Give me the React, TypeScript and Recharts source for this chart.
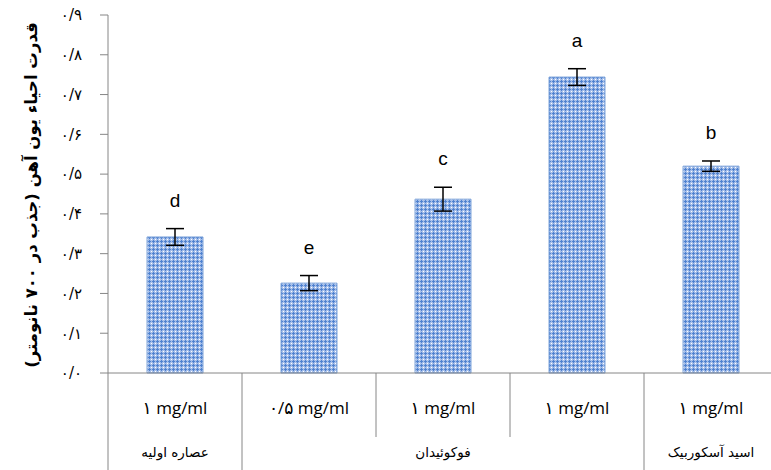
import { BarChart, Bar, XAxis, YAxis, ErrorBar, LabelList } from "recharts";

const doses = ["۱ mg/ml", "۰/۵ mg/ml", "۱ mg/ml", "۱ mg/ml", "۱ mg/ml"];
const groups = ["عصاره اولیه", "فوکوئیدان", "فوکوئیدان", "فوکوئیدان", "اسید آسکوربیک"];
const values = [0.342, 0.226, 0.437, 0.744, 0.52];
const errors = [0.021, 0.019, 0.03, 0.021, 0.013];
const letters = ["d", "e", "c", "a", "b"];
const yTicks = [0, 0.1, 0.2, 0.3, 0.4, 0.5, 0.6, 0.7, 0.8, 0.9];

const yTitle = "قدرت احیاء یون آهن (جذب در ۷۰۰ نانومتر)";

const W = 780;
const H = 470;
const AXIS_W = 108;
const RIGHT = 2;
const HALF = (W - AXIS_W - RIGHT) / doses.length / 2;
const GRID = "#868686";

const data = doses.map((d, i) => ({
  dose: d,
  group: groups[i],
  value: values[i],
  err: errors[i],
  letter: letters[i],
}));

const toFa = (v: number) =>
  v
    .toFixed(1)
    .replace(".", "/")
    .replace(/[0-9]/g, (c) => "۰۱۲۳۴۵۶۷۸۹"[Number(c)]);

function DoseTick(props: any) {
  const { x, y, index } = props;
  const newGroup = index === 0 || groups[index] !== groups[index - 1];
  let n = 1;
  while (index + n < groups.length && groups[index + n] === groups[index]) n++;
  const last = index === groups.length - 1;
  return (
    <g>
      <line x1={x - HALF} x2={x - HALF} y1={y} y2={newGroup ? H : y + 64} stroke={GRID} />
      {last && <line x1={x + HALF} x2={x + HALF} y1={y} y2={H} stroke={GRID} />}
      <text x={x} y={y + 41} textAnchor="middle" fontSize={17} fill="#000" fontFamily="'Open Sans', 'DejaVu Sans', sans-serif">
        {doses[index]}
      </text>
      {newGroup && (
        <text x={x + (n - 1) * HALF} y={y + 84} textAnchor="middle" fontSize={13.5} fill="#000" fontFamily="'DejaVu Sans', sans-serif">
          {groups[index]}
        </text>
      )}
    </g>
  );
}

function LetterLabel(props: any) {
  const { x, y, width, height, index } = props;
  const perUnit = height / values[index];
  const top = y - errors[index] * perUnit;
  return (
    <text x={x + width / 2} y={top - 22} textAnchor="middle" fontSize={19} fill="#000" fontFamily="'Liberation Sans', Arial, sans-serif">
      {letters[index]}
    </text>
  );
}

export default function App() {
  return (
    <div style={{ position: "absolute", left: 0, top: 0, width: 771, height: H, overflow: "hidden", background: "#fff" }}>
      <BarChart width={W} height={H} data={data} margin={{ top: 15, right: RIGHT, bottom: 0, left: 0 }} barSize={56}>
        <defs>
          <pattern id="hatch" width="4" height="4" patternUnits="userSpaceOnUse">
            <rect width="4" height="4" fill="#a5bee9" />
            <rect x="3" y="3" width="1" height="1" fill="#ffffff" />
            <rect x="1" y="0" width="1" height="3" fill="#4f82d0" />
            <rect x="0" y="1" width="3" height="1" fill="#4f82d0" />
          </pattern>
        </defs>
        <XAxis
          dataKey="dose"
          height={H - 373}
          tickLine={false}
          tickSize={0}
          tickMargin={0}
          axisLine={{ stroke: GRID }}
          tick={<DoseTick />}
          interval={0}
        />
        <YAxis
          width={AXIS_W}
          domain={[0, 0.9]}
          ticks={yTicks}
          tickFormatter={toFa}
          tickSize={8}
          tickMargin={18}
          axisLine={{ stroke: GRID }}
          tickLine={{ stroke: GRID }}
          tick={{ fontSize: 15, fill: "#000", fontFamily: "'DejaVu Sans', sans-serif" }}
          interval={0}
          label={{
            value: yTitle,
            angle: -90,
            position: "insideLeft",
            dx: 26,
            dy: 1,
            style: { fontSize: 16.5, fontWeight: "bold", fill: "#000", fontFamily: "'DejaVu Sans', sans-serif", textAnchor: "middle" },
          }}
        />
        <Bar dataKey="value" fill="url(#hatch)" stroke="#7ea4da" strokeWidth={1} isAnimationActive={false}>
          <ErrorBar dataKey="err" width={9} stroke="#000" strokeWidth={1.5} />
          <LabelList dataKey="letter" content={<LetterLabel />} />
        </Bar>
      </BarChart>
    </div>
  );
}
